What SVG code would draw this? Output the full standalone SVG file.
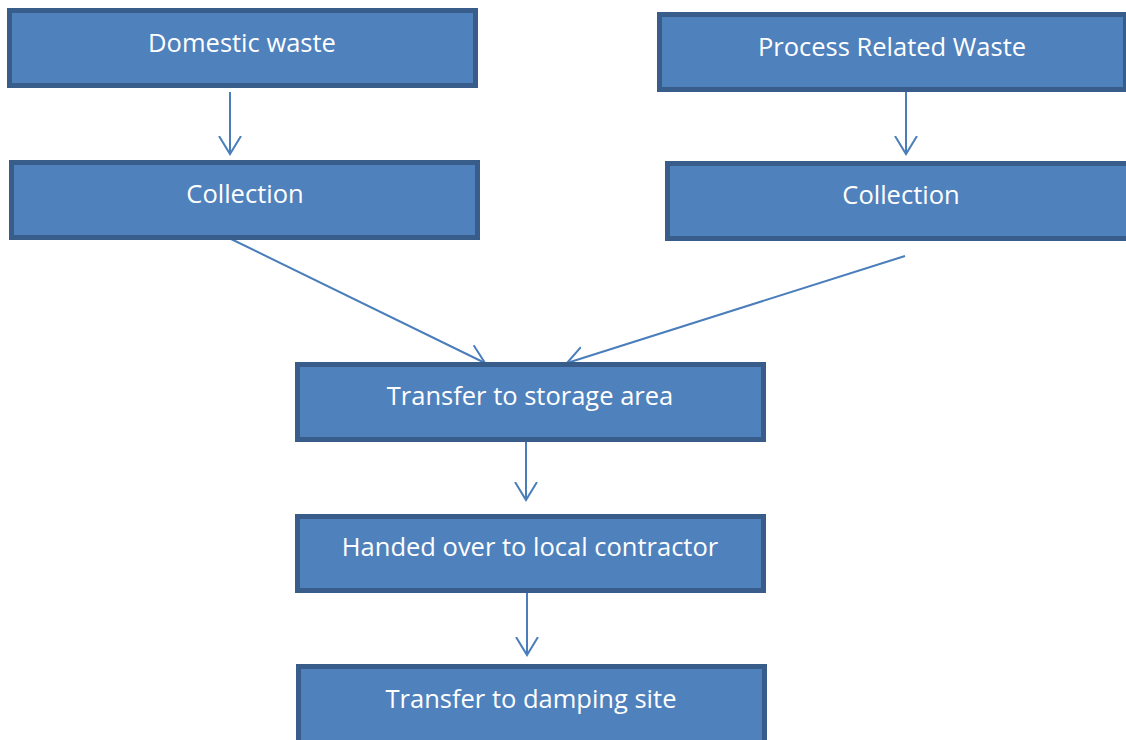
<svg xmlns="http://www.w3.org/2000/svg" width="1126" height="740" viewBox="0 0 1126 740">
<style>
.box{fill:#4F81BD;stroke:#385D8A;stroke-width:5}
.lbl{fill:#fff;font-family:"Open Sans","Liberation Sans",sans-serif;font-size:25.5px;text-anchor:middle}
.con{stroke:#4A7EBB;stroke-width:2;fill:none}
</style>
<defs>
<marker id="ah" markerWidth="24" markerHeight="26" refX="18" refY="12" orient="auto" markerUnits="userSpaceOnUse" viewBox="0 0 24 24">
<path d="M0,1 L18,12 L0,23" fill="none" stroke="#4A7EBB" stroke-width="2"/>
</marker>
</defs>
<rect width="1126" height="740" fill="#fff"/>
<g id="connectors">
<line class="con" x1="230" y1="92" x2="230" y2="154" marker-end="url(#ah)"/>
<line class="con" x1="906" y1="92" x2="906" y2="154" marker-end="url(#ah)"/>
<line class="con" x1="229" y1="238" x2="485" y2="363" marker-end="url(#ah)"/>
<line class="con" x1="905" y1="256" x2="567" y2="363" marker-end="url(#ah)"/>
<line class="con" x1="526" y1="441" x2="526" y2="500" marker-end="url(#ah)"/>
<line class="con" x1="527" y1="593" x2="527" y2="655" marker-end="url(#ah)"/>
</g>
<g id="n1"><rect class="box" x="9.5" y="10.5" width="466" height="75"/><text class="lbl" x="242" y="52">Domestic waste</text></g>
<g id="n2"><rect class="box" x="659.5" y="14.5" width="466" height="75"/><text class="lbl" x="892" y="56">Process Related Waste</text></g>
<g id="n3"><rect class="box" x="11.5" y="162.5" width="466" height="75"/><text class="lbl" x="245" y="203">Collection</text></g>
<g id="n4"><rect class="box" x="667.5" y="163.5" width="466" height="75"/><text class="lbl" x="901" y="204">Collection</text></g>
<g id="n5"><rect class="box" x="297.5" y="364.5" width="466" height="75"/><text class="lbl" x="530" y="405">Transfer to storage area</text></g>
<g id="n6"><rect class="box" x="297.5" y="516.5" width="466" height="74"/><text class="lbl" x="530" y="556">Handed over to local contractor</text></g>
<g id="n7"><rect class="box" x="298.5" y="666.5" width="466" height="80"/><text class="lbl" x="531" y="708">Transfer to damping site</text></g>
</svg>
